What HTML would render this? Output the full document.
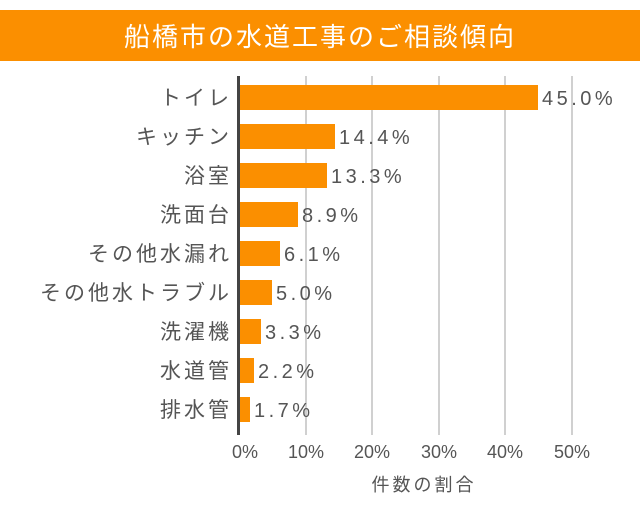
<!DOCTYPE html>
<html><head><meta charset="utf-8"><style>
body{margin:0;background:#fff;}
svg text{font-family:"Liberation Sans","Noto Sans CJK JP",sans-serif;}
</style></head><body>
<svg width="640" height="500" xmlns="http://www.w3.org/2000/svg">
<rect x="0" y="10" width="640" height="51" fill="#fb8f00"/>
<text x="320" y="46" text-anchor="middle" font-size="26" letter-spacing="2" fill="#fff">船橋市の水道工事のご相談傾向</text>
<g stroke="#d0d0d0" stroke-width="2">
<line x1="306" y1="76" x2="306" y2="435"/><line x1="372" y1="76" x2="372" y2="435"/>
<line x1="439" y1="76" x2="439" y2="435"/><line x1="505" y1="76" x2="505" y2="435"/>
<line x1="572" y1="76" x2="572" y2="435"/>
</g>
<g fill="#fb8f00">
<rect x="239" y="85" width="299" height="25"/>
<rect x="239" y="124" width="96" height="25"/>
<rect x="239" y="163" width="88" height="25"/>
<rect x="239" y="202" width="59" height="25"/>
<rect x="239" y="241" width="41" height="25"/>
<rect x="239" y="280" width="33" height="25"/>
<rect x="239" y="319" width="22" height="25"/>
<rect x="239" y="358" width="15" height="25"/>
<rect x="239" y="397" width="11" height="25"/>
</g>
<line x1="238.5" y1="76" x2="238.5" y2="435" stroke="#444" stroke-width="3"/>
<g font-size="21" fill="#555" text-anchor="end" letter-spacing="3">
<text x="232" y="105">トイレ</text><text x="232" y="144">キッチン</text>
<text x="232" y="183">浴室</text><text x="232" y="222">洗面台</text>
<text x="232" y="261">その他水漏れ</text><text x="232" y="300">その他水トラブル</text>
<text x="232" y="339">洗濯機</text><text x="232" y="378">水道管</text>
<text x="232" y="417">排水管</text>
</g>
<g font-size="20" fill="#555" letter-spacing="3.5">
<text x="542" y="105">45.0%</text><text x="339" y="144">14.4%</text>
<text x="331" y="183">13.3%</text><text x="302" y="222">8.9%</text>
<text x="284" y="261">6.1%</text><text x="276" y="300">5.0%</text>
<text x="265" y="339">3.3%</text><text x="258" y="378">2.2%</text>
<text x="254" y="417">1.7%</text>
</g>
<g font-size="18" fill="#555" text-anchor="middle">
<text x="245" y="458">0%</text><text x="306" y="458">10%</text>
<text x="372" y="458">20%</text><text x="439" y="458">30%</text>
<text x="505" y="458">40%</text><text x="572" y="458">50%</text>
<text x="424" y="491" letter-spacing="3">件数の割合</text>
</g>
</svg>
</body></html>
